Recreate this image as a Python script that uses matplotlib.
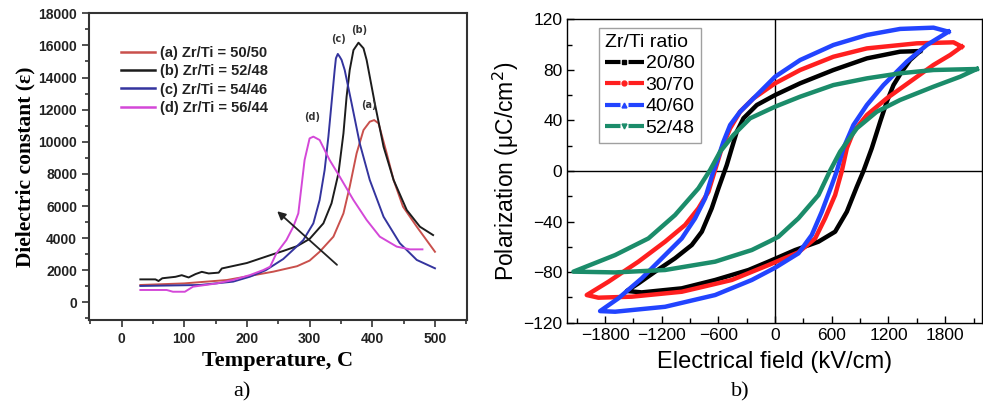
import matplotlib
matplotlib.use("Agg")
import matplotlib.pyplot as plt
from matplotlib.lines import Line2D
from matplotlib.ticker import MultipleLocator

# ---- panel a) dielectric constant vs temperature ----
temp_a = [30, 100, 168, 242, 280, 300, 316, 338, 354, 364, 375, 386, 396, 403, 410, 423, 434, 449, 471, 500]
eps_a = [1080, 1180, 1390, 1910, 2250, 2600, 3150, 4090, 5540, 7200, 9280, 10730, 11250, 11350, 11150, 9280, 7620, 5960, 4710, 3150]

temp_b = [30, 54, 59, 65, 86, 96, 107, 118, 128, 139, 155, 160, 200, 242, 258, 280, 300, 322, 335,
          346, 354, 359, 364, 370, 378, 386, 391, 404, 418, 434, 455, 476, 497]
eps_b = [1430, 1430, 1330, 1500, 1590, 1690, 1550, 1760, 1900, 1800, 1850, 2110, 2450, 3000, 3200, 3500, 3950, 4920, 6170,
         8030, 10520, 12800, 14470, 15710, 16170, 15820, 15090, 12400, 9690, 7620, 5750, 4710, 4190]

temp_c = [30, 125, 178, 205, 230, 258, 280, 290, 306, 316, 324, 330, 335, 340, 342, 345, 348, 351, 356, 367, 380, 396,
          418, 444, 471, 500]
eps_c = [1020, 1080, 1290, 1600, 2000, 2700, 3500, 3880, 4920, 6370, 8240, 10320, 12400, 14470, 15200, 15470, 15300,
         15100, 14470, 12400, 9900, 7620, 5330, 3680, 2640, 2120]

temp_d = [30, 72, 82, 101, 114, 152, 178, 205, 226, 237, 247, 263, 274, 282, 287, 292, 300, 306, 316, 332, 348, 370,
          391, 412, 439, 460, 480]
eps_d = [770, 770, 660, 660, 975, 1180, 1390, 1700, 2010, 2220, 3050, 3880, 4710, 5540, 7200, 8860, 10210, 10320, 10110,
         8860, 7830, 6370, 5130, 4090, 3470, 3300, 3300]

labels_a = ["(a) Zr/Ti = 50/50", "(b) Zr/Ti = 52/48", "(c) Zr/Ti = 54/46", "(d) Zr/Ti = 56/44"]
colors_a = ["#c9504c", "#1c1c1c", "#34349e", "#d448d8"]

# ---- panel b) P-E hysteresis loops (upper branch then lower branch) ----
black_up_E = [1535, 1323, 971, 617, 265, 0, -194, -335, -406, -459, -512, -600, -671, -776, -882, -1059, -1270, -1447, -1570]
black_up_P = [94.9, 94.4, 89.1, 79.9, 69.4, 60.1, 52.2, 41.7, 31.1, 18, 4.7, -13.7, -29.5, -48, -58.5, -69, -79.6, -88.9, -94.9]
black_lo_E = [-1570, -1412, -988, -635, -282, -71, 212, 459, 635, 759, 865, 935, 1023, 1112, 1182, 1253, 1341, 1429, 1535]
black_lo_P = [-94.9, -96, -92.8, -86.2, -78.3, -71.7, -62.5, -55.9, -48, -32.2, -12.4, 0, 18, 39, 54.8, 68, 78.6, 87.8, 94.9]

red_up_E = [1976, 1888, 1500, 971, 617, 265, 0, -229, -371, -476, -565, -635, -706, -812, -953, -1165, -1447, -1765, -1994]
red_up_P = [98.4, 101.8, 101, 97, 90.4, 79.9, 69.4, 57.5, 46.9, 33.8, 18, 1, -16.4, -29.5, -42.7, -55.9, -71.7, -87.6, -98.1]
red_lo_E = [-1994, -1871, -1517, -988, -459, -71, 247, 424, 529, 635, 706, 759, 829, 971, 1182, 1429, 1676, 1853, 1976]
red_lo_P = [-98.1, -100.2, -99.4, -95.5, -86.2, -74.4, -64.3, -53.3, -37.4, -19, 0, 18, 31.1, 44.3, 57.5, 70.7, 83.9, 91.8, 98.4]

blue_up_E = [1835, 1676, 1323, 971, 617, 265, 0, -194, -371, -476, -547, -617, -653, -741, -847, -988, -1165, -1412, -1659, -1853]
blue_up_P = [110.2, 113.4, 112.4, 107.6, 99.7, 87.8, 74.6, 60.1, 46.9, 36.4, 23.2, 7.4, 0, -21.6, -37.4, -53.3, -66.5, -84.9,
             -100.7, -110.8]
blue_lo_E = [-1853, -1694, -1165, -635, -247, 0, 247, 388, 494, 600, 653, 723, 829, 971, 1147, 1394, 1606, 1835]
blue_lo_P = [-110.8, -111.3, -107.4, -98.1, -86.2, -76.5, -65.1, -50.6, -32.2, -11.1, 0, 18, 36.4, 52.2, 68, 86.5, 99.7, 110.2]

green_up_E = [2135, 1676, 1323, 971, 617, 265, 0, -265, -441, -582, -688, -812, -1059, -1341, -1694, -2135]
green_up_P = [80.7, 79.9, 77.3, 73.3, 68, 58.8, 50.9, 41.7, 28.5, 15.3, 0.8, -13.7, -34.8, -53.3, -66.5, -79.6]
green_lo_E = [-2135, -1694, -1165, -635, -247, -53, 35, 247, 459, 580, 688, 865, 1076, 1323, 1676, 1959, 2135]
green_lo_P = [-79.6, -80.2, -78.3, -71.7, -62.5, -55.4, -52, -37.4, -19, 0, 15.3, 33.8, 46.9, 56.2, 66.7, 74.6, 80.7]

ratios = ["20/80", "30/70", "40/60", "52/48"]
colors_b = ["#000000", "#ff1f1f", "#2244ff", "#1b8c6a"]
markers_b = ["s", "o", "^", "v"]

fig = plt.figure(figsize=(9.83, 4.11), dpi=100)

# left panel
ax1 = fig.add_axes([0.0905, 0.2214, 0.3845, 0.7462])
ax1.plot(temp_a, eps_a, color=colors_a[0], lw=1.4, label=labels_a[0])
ax1.plot(temp_b, eps_b, color=colors_a[1], lw=1.4, label=labels_a[1])
ax1.plot(temp_c, eps_c, color=colors_a[2], lw=1.4, label=labels_a[2])
ax1.plot(temp_d, eps_d, color=colors_a[3], lw=1.4, label=labels_a[3])
ax1.set_xlim(-52, 551)
ax1.set_ylim(-1100, 18000)
ax1.xaxis.set_major_locator(MultipleLocator(100))
ax1.xaxis.set_minor_locator(MultipleLocator(50))
ax1.yaxis.set_major_locator(MultipleLocator(2000))
ax1.yaxis.set_minor_locator(MultipleLocator(1000))
ax1.tick_params(which="both", direction="out", color="#333333", width=1.2)
ax1.tick_params(which="major", length=5)
ax1.tick_params(which="minor", length=3)
for lab in ax1.get_xticklabels() + ax1.get_yticklabels():
    lab.set_fontweight("bold")
    lab.set_fontsize(10)
    lab.set_family("Liberation Sans")
    lab.set_color("#222222")
for s in ax1.spines.values():
    s.set_linewidth(1.5)
    s.set_color("#333333")
ax1.set_xlabel("Temperature, C", family="Liberation Serif", fontweight="bold", fontsize=16, labelpad=4)
ax1.set_ylabel("Dielectric constant (ε)", family="Liberation Serif", fontweight="bold", fontsize=15.5, labelpad=2)
leg1 = ax1.legend(loc="upper left", bbox_to_anchor=(0.05, 0.935), frameon=False, handlelength=2.3,
                  handletextpad=0.4, labelspacing=0.28, prop={"family": "Liberation Sans", "weight": "bold", "size": 10.5})
for t in leg1.get_texts():
    t.set_color("#222222")
for h in leg1.get_lines():
    h.set_linewidth(1.8)

ax1.text(394, 12100, "(a)", fontsize=7, fontweight="bold", ha="center", color="#333333")
ax1.text(379, 16800, "(b)", fontsize=7, fontweight="bold", ha="center", color="#333333")
ax1.text(346, 16230, "(c)", fontsize=7, fontweight="bold", ha="center", color="#333333")
ax1.text(304, 11360, "(d)", fontsize=7, fontweight="bold", ha="center", color="#333333")
ax1.annotate("", xy=(245, 5790), xytext=(347, 2220),
             arrowprops=dict(arrowstyle="-|>", color="#222222", lw=1.3, mutation_scale=12))

# right panel
ax2 = fig.add_axes([0.5771, 0.2148, 0.4219, 0.7382])
ax2.axhline(0, color="black", lw=1)
ax2.axvline(0, color="black", lw=1)
ax2.plot(black_up_E + black_lo_E, black_up_P + black_lo_P, color=colors_b[0], lw=3.2, solid_joinstyle="round")
ax2.plot(red_up_E + red_lo_E, red_up_P + red_lo_P, color=colors_b[1], lw=3.2, solid_joinstyle="round")
ax2.plot(blue_up_E + blue_lo_E, blue_up_P + blue_lo_P, color=colors_b[2], lw=3.2, solid_joinstyle="round")
ax2.plot(green_up_E + green_lo_E, green_up_P + green_lo_P, color=colors_b[3], lw=3.2, solid_joinstyle="round")
ax2.set_xlim(-2200, 2190)
ax2.set_ylim(-120, 120)
ax2.xaxis.set_major_locator(MultipleLocator(600))
ax2.xaxis.set_minor_locator(MultipleLocator(300))
ax2.yaxis.set_major_locator(MultipleLocator(40))
ax2.yaxis.set_minor_locator(MultipleLocator(20))
ax2.tick_params(which="both", direction="in", width=1)
ax2.tick_params(which="major", length=5, labelsize=12.5)
ax2.tick_params(which="minor", length=3.5)
for lab in ax2.get_xticklabels() + ax2.get_yticklabels():
    lab.set_family("Liberation Sans")
for s in ax2.spines.values():
    s.set_linewidth(1)
ax2.set_xlabel("Electrical field (kV/cm)", family="Liberation Sans", fontsize=17, labelpad=6)
ax2.set_ylabel("Polarization (μC/cm$^2$)", family="Liberation Sans", fontsize=16.5, labelpad=2)

# legend handles: thick dash, small marker in the gap, thick dash
handles = [Line2D([], [], color=c, ls=(0, (3.72, 1.92)), lw=3, dash_capstyle="butt", marker=m, markersize=3.5)
           for c, m in zip(colors_b, markers_b)]
leg2 = ax2.legend(handles, ratios, title="Zr/Ti ratio", loc="upper left", bbox_to_anchor=(0.0765, 0.971),
                  handlelength=2.0, handletextpad=0.1, labelspacing=0.2, borderpad=0.3, borderaxespad=0,
                  fancybox=False, numpoints=1, prop={"family": "Liberation Sans", "size": 14},
                  title_fontproperties={"family": "Liberation Sans", "size": 14})
leg2.get_frame().set_edgecolor("#888888")
leg2.get_frame().set_linewidth(1)
leg2._legend_box.align = "left"

fig.text(0.246, 0.035, "a)", family="Liberation Serif", fontsize=16, ha="center")
fig.text(0.753, 0.035, "b)", family="Liberation Serif", fontsize=16, ha="center")

fig.savefig("out.png", dpi=100)
